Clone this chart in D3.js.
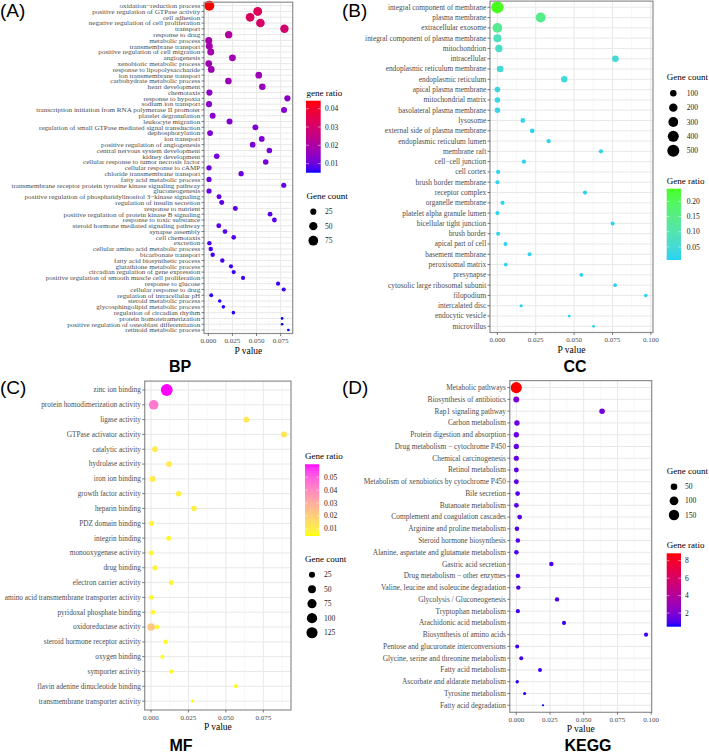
<!DOCTYPE html>
<html><head><meta charset="utf-8">
<script src="https://cdn.jsdelivr.net/npm/d3@7"></script>
<style>body{margin:0;background:#fff}</style>
</head><body>
<svg id="c" width="709" height="754" xmlns="http://www.w3.org/2000/svg"></svg>
<script>
// ---------------- DATA ----------------
const bpTerms = ["oxidation\u2212reduction process","positive regulation of GTPase activity","cell adhesion","negative regulation of cell proliferation","transport","response to drug","metabolic process","transmembrane transport","positive regulation of cell migration","angiogenesis","xenobiotic metabolic process","response to lipopolysaccharide","ion transmembrane transport","carbohydrate metabolic process","heart development","chemotaxis","response to hypoxia","sodium ion transport","transcription initiation from RNA polymerase II promoter","platelet degranulation","leukocyte migration","regulation of small GTPase mediated signal transduction","dephosphorylation","ion transport","positive regulation of angiogenesis","central nervous system development","kidney development","cellular response to tumor necrosis factor","cellular response to cAMP","chloride transmembrane transport","fatty acid metabolic process","transmembrane receptor protein tyrosine kinase signaling pathway","gluconeogenesis","positive regulation of phosphatidylinositol 3\u2212kinase signaling","regulation of insulin secretion","response to nutrient","positive regulation of protein kinase B signaling","response to toxic substance","steroid hormone mediated signaling pathway","synapse assembly","cell chemotaxis","excretion","cellular amino acid metabolic process","bicarbonate transport","fatty acid biosynthetic process","glutathione metabolic process","circadian regulation of gene expression","positive regulation of smooth muscle cell proliferation","response to glucose","cellular response to drug","regulation of intracellular pH","steroid metabolic process","glycosphingolipid metabolic process","regulation of circadian rhythm","protein homotetramerization","positive regulation of osteoblast differentiation","retinoid metabolic process"];
const bpP = [0.001,0.0512,0.0433,0.054,0.0789,0.0211,0.0004,0.001,0.0025,0.025,0.0004,0.003,0.0523,0.0208,0.056,0.0011,0.082,0.0007,0.0785,0.0045,0.022,0.0488,0.0018,0.0554,0.046,0.0633,0.0087,0.0595,0.0007,0.034,0.0007,0.0782,0.0007,0.0111,0.0139,0.028,0.064,0.0685,0.0108,0.0173,0.0263,0.0011,0.0025,0.0045,0.0145,0.0235,0.0263,0.036,0.0723,0.0782,0.003,0.0118,0.0156,0.026,0.0765,0.0765,0.083];
const bpCount = [80,60,58,56,53,38,34,33,33,32,31,31,30,30,29,25,25,24,24,23,23,22,22,21,21,20,20,20,18,18,17,17,17,16,16,16,15,15,15,15,14,13,13,13,13,12,12,12,12,12,11,10,10,10,9,9,9];
const bpRatio = [0.0444,0.0333,0.0322,0.0311,0.0294,0.0211,0.0189,0.0183,0.0183,0.0178,0.0172,0.0172,0.0167,0.0167,0.0161,0.0139,0.0139,0.0133,0.0133,0.0128,0.0128,0.0122,0.0122,0.0117,0.0117,0.0111,0.0111,0.0111,0.0100,0.0100,0.0094,0.0094,0.0094,0.0089,0.0089,0.0089,0.0083,0.0083,0.0083,0.0083,0.0078,0.0072,0.0072,0.0072,0.0072,0.0067,0.0067,0.0067,0.0067,0.0067,0.0061,0.0056,0.0056,0.0056,0.0050,0.0050,0.0050];

const ccTerms = ["integral component of membrane","plasma membrane","extracellular exosome","integral component of plasma membrane","mitochondrion","intracellular","endoplasmic reticulum membrane","endoplasmic reticulum","apical plasma membrane","mitochondrial matrix","basolateral plasma membrane","lysosome","external side of plasma membrane","endoplasmic reticulum lumen","membrane raft","cell\u2212cell junction","cell cortex","brush border membrane","receptor complex","organelle membrane","platelet alpha granule lumen","bicellular tight junction","brush border","apical part of cell","basement membrane","peroxisomal matrix","presynapse","cytosolic large ribosomal subunit","filopodium","intercalated disc","endocytic vesicle","microvillus"];
const ccP = [0.00001,0.0282,0.00001,0.00002,0.001,0.0769,0.0018,0.0436,0.00003,0.00004,0.00005,0.0166,0.0227,0.0334,0.0675,0.0173,0.0005,0.00006,0.0571,0.0034,0.00007,0.0751,0.0005,0.0053,0.021,0.0055,0.0547,0.0767,0.0967,0.0155,0.0468,0.0627];
const ccCount = [520,315,300,175,142,104,104,100,67,65,62,45,44,37,36,36,35,34,34,33,33,31,31,31,30,29,29,28,27,24,23,23];
const ccRatio = [0.242,0.147,0.140,0.081,0.066,0.048,0.048,0.047,0.031,0.030,0.029,0.021,0.020,0.017,0.017,0.017,0.016,0.016,0.016,0.015,0.015,0.014,0.014,0.014,0.014,0.013,0.013,0.013,0.0126,0.009,0.008,0.0067];

const mfTerms = ["zinc ion binding","protein homodimerization activity","ligase activity","GTPase activator activity","catalytic activity","hydrolase activity","iron ion binding","growth factor activity","heparin binding","PDZ domain binding","integrin binding","monooxygenase activity","drug binding","electron carrier activity","amino acid transmembrane transporter activity","pyridoxal phosphate binding","oxidoreductase activity","oxidoreductase activity","steroid hormone receptor activity","oxygen binding","symporter activity","flavin adenine dinucleotide binding","transmembrane transporter activity"];
const mfP = [0.0105,0.0018,0.0637,0.0888,0.0027,0.012,0.0011,0.0185,0.0287,0.0004,0.0118,0.0001,0.0027,0.0136,0.0002,0.0013,0.0001,0.004,0.0098,0.0076,0.0136,0.0568,0.0278];
const mfCount = [145,85,24,24,23,22,22,20,20,17,16,16,17,16,14,14,45,13,13,11,11,11,10];
const mfRatio = [0.060,0.044,0.012,0.012,0.011,0.011,0.0105,0.0095,0.0095,0.008,0.0075,0.0075,0.008,0.0075,0.0065,0.0065,0.022,0.006,0.006,0.005,0.005,0.005,0.0043];

const keggTerms = ["Metabolic pathways","Biosynthesis of antibiotics","Rap1 signaling pathway","Carbon metabolism","Protein digestion and absorption","Drug metabolism \u2212 cytochrome P450","Chemical carcinogenesis","Retinol metabolism","Metabolism of xenobiotics by cytochrome P450","Bile secretion","Butanoate metabolism","Complement and coagulation cascades","Arginine and proline metabolism","Steroid hormone biosynthesis","Alanine, aspartate and glutamate metabolism","Gastric acid secretion","Drug metabolism \u2212 other enzymes","Valine, leucine and isoleucine degradation","Glycolysis / Gluconeogenesis","Tryptophan metabolism","Arachidonic acid metabolism","Biosynthesis of amino acids","Pentose and glucuronate interconversions","Glycine, serine and threonine metabolism","Fatty acid metabolism","Ascorbate and aldarate metabolism","Tyrosine metabolism","Fatty acid degradation"];
const keggP = [0.00001,0.00002,0.0636,0.0005,0.00003,0.00004,0.00005,0.00006,0.00007,0.001,0.00008,0.0025,0.0005,0.0012,0.00009,0.026,0.0012,0.0015,0.0302,0.0012,0.0354,0.0962,0.0007,0.0037,0.0176,0.0007,0.0062,0.0198];
const keggCount = [180,39,33,31,30,28,28,25,25,23,23,23,21,21,21,20,19,19,19,17,17,17,16,16,16,12,11,9];
const keggRatio = [8.85,1.92,1.63,1.53,1.48,1.38,1.38,1.23,1.23,1.13,1.13,1.13,1.03,1.03,1.03,0.99,0.94,0.94,0.94,0.84,0.84,0.84,0.79,0.79,0.79,0.59,0.54,0.44];

const pTicks4 = [0, 0.025, 0.05, 0.075];
const pTicks5 = [0, 0.025, 0.05, 0.075, 0.1];
const bpSizeBreaks = [25, 50, 75];
const bpRatioBreaks = [0.01, 0.02, 0.03, 0.04];
const ccSizeBreaks = [100, 200, 300, 400, 500];
const ccRatioBreaks = [0.05, 0.10, 0.15, 0.20];
const mfSizeBreaks = [25, 50, 75, 100, 125];
const mfRatioBreaks = [0.01, 0.02, 0.03, 0.04, 0.05];
const keggSizeBreaks = [50, 100, 150];
const keggRatioBreaks = [2, 4, 6, 8];

// ---------------- DRAW ----------------
const svg = d3.select('#c');
const SERIF = "'Times New Roman','Liberation Serif','DejaVu Serif',serif";
const SANS = "Arial,'Liberation Sans',Helvetica,sans-serif";
let gradId = 0;

function drawPanel(cfg) {
  const g = svg.append('g');
  const uniq = Array.from(new Set(cfg.terms));
  const x = d3.scaleLinear().domain(cfg.xDomain).range([cfg.x0, cfg.x1]);
  const y = d3.scalePoint().domain(uniq).range([cfg.y0, cfg.y1]).padding(0.6);
  const rExt = d3.extent(cfg.ratio);
  const col = d3.scaleLinear().domain(rExt).range([cfg.low, cfg.high]).interpolate(d3.interpolateLab);
  const nExt = d3.extent(cfg.count);
  const tS = d3.scaleLinear().domain(nExt).range([0, 1]);
  const rad = v => cfg.r0 + (cfg.r1 - cfg.r0) * Math.sqrt(Math.max(0, tS(v)));

  // grid
  const step = cfg.ticks[1] - cfg.ticks[0];
  const minors = [];
  for (let i = -1; i < cfg.ticks.length; i++) {
    const m = cfg.ticks[0] + step * (i + 0.5);
    if (m > cfg.xDomain[0] && m < cfg.xDomain[1]) minors.push(m);
  }
  g.append('g').selectAll('line').data(minors).join('line')
    .attr('x1', d => x(d)).attr('x2', d => x(d)).attr('y1', cfg.y0).attr('y2', cfg.y1)
    .attr('stroke', '#F3F3F3').attr('stroke-width', 0.6);
  g.append('g').selectAll('line').data(cfg.ticks).join('line')
    .attr('x1', d => x(d)).attr('x2', d => x(d)).attr('y1', cfg.y0).attr('y2', cfg.y1)
    .attr('stroke', '#E8E8E8').attr('stroke-width', 1);
  g.append('g').selectAll('line').data(uniq).join('line')
    .attr('x1', cfg.x0).attr('x2', cfg.x1).attr('y1', d => y(d)).attr('y2', d => y(d))
    .attr('stroke', '#E8E8E8').attr('stroke-width', 1);

  // points (largest first)
  const pts = cfg.terms.map((t, i) => ({ t, p: cfg.p[i], c: cfg.count[i], r: cfg.ratio[i] }))
    .sort((a, b) => b.c - a.c);
  g.append('g').selectAll('circle').data(pts).join('circle')
    .attr('cx', d => x(d.p)).attr('cy', d => y(d.t)).attr('r', d => rad(d.c))
    .attr('fill', d => col(d.r));

  // border
  g.append('rect').attr('x', cfg.x0).attr('y', cfg.y0)
    .attr('width', cfg.x1 - cfg.x0).attr('height', cfg.y1 - cfg.y0)
    .attr('fill', 'none').attr('stroke', '#8E8E8E').attr('stroke-width', 1.2);

  // y axis
  g.append('g').selectAll('line').data(uniq).join('line')
    .attr('x1', cfg.x0 - 2.5).attr('x2', cfg.x0).attr('y1', d => y(d)).attr('y2', d => y(d))
    .attr('stroke', '#444').attr('stroke-width', 0.7);
  g.append('g').selectAll('text').data(uniq).join('text')
    .attr('x', cfg.x0 - 3.8).attr('y', d => y(d)).attr('dy', '0.33em')
    .attr('text-anchor', 'end').attr('font-family', SERIF).attr('font-size', cfg.labelSize)
    .attr('fill', '#4D4D4D').text(d => d);

  // x axis
  g.append('g').selectAll('line').data(cfg.ticks).join('line')
    .attr('x1', d => x(d)).attr('x2', d => x(d)).attr('y1', cfg.y1).attr('y2', cfg.y1 + 2.5)
    .attr('stroke', '#444').attr('stroke-width', 0.7);
  g.append('g').selectAll('text').data(cfg.ticks).join('text')
    .attr('x', d => x(d)).attr('y', cfg.y1 + 7.2).attr('dy', '0.35em')
    .attr('text-anchor', 'middle').attr('font-family', SERIF).attr('font-size', 7)
    .attr('fill', '#4D4D4D').text(d => d3.format('.3f')(d));
  g.append('text').attr('x', (cfg.x0 + cfg.x1) / 2).attr('y', cfg.y1 + 16.8).attr('dy', '0.35em')
    .attr('text-anchor', 'middle').attr('font-family', SERIF).attr('font-size', 9.5)
    .attr('fill', '#000').text('P value');

  // legends
  const L = cfg.legend;
  // size legend
  const sg = g.append('g');
  sg.append('text').attr('x', L.sizeTitle[0]).attr('y', L.sizeTitle[1]).attr('dy', '0.35em')
    .attr('font-family', SERIF).attr('font-size', 9).attr('fill', '#000').text(L.sizeTitleText);
  sg.selectAll('circle').data(cfg.sizeBreaks).join('circle')
    .attr('cx', L.sizeCx).attr('cy', (d, i) => L.sizeY0 + i * L.sizeStep)
    .attr('r', d => rad(d)).attr('fill', '#000');
  sg.selectAll('text.lab').data(cfg.sizeBreaks).join('text').attr('class', 'lab')
    .attr('x', L.labX).attr('y', (d, i) => L.sizeY0 + i * L.sizeStep).attr('dy', '0.35em')
    .attr('font-family', SERIF).attr('font-size', 7.5).attr('fill', '#1a1a1a').text(d => d);

  // colour bar
  const id = 'grad' + (gradId++);
  const grad = svg.append('defs').append('linearGradient').attr('id', id)
    .attr('x1', 0).attr('y1', 1).attr('x2', 0).attr('y2', 0);
  d3.range(0, 21).forEach(i => {
    const t = i / 20;
    grad.append('stop').attr('offset', t).attr('stop-color', col(rExt[0] + t * (rExt[1] - rExt[0])));
  });
  const cg = g.append('g');
  cg.append('text').attr('x', L.ratioTitle[0]).attr('y', L.ratioTitle[1]).attr('dy', '0.35em')
    .attr('font-family', SERIF).attr('font-size', 9).attr('fill', '#000').text(L.ratioTitleText);
  cg.append('rect').attr('x', L.bar[0]).attr('y', L.bar[1]).attr('width', L.bar[2] - L.bar[0])
    .attr('height', L.bar[3] - L.bar[1]).attr('fill', `url(#${id})`);
  const by = d3.scaleLinear().domain(rExt).range([L.bar[3], L.bar[1]]);
  const bw = L.bar[2] - L.bar[0];
  cg.selectAll('line.tl').data(cfg.ratioBreaks).join('line').attr('class', 'tl')
    .attr('x1', L.bar[0]).attr('x2', L.bar[0] + bw * 0.2).attr('y1', d => by(d)).attr('y2', d => by(d))
    .attr('stroke', '#fff').attr('stroke-opacity', 0.8).attr('stroke-width', 0.6);
  cg.selectAll('line.tr').data(cfg.ratioBreaks).join('line').attr('class', 'tr')
    .attr('x1', L.bar[2] - bw * 0.2).attr('x2', L.bar[2]).attr('y1', d => by(d)).attr('y2', d => by(d))
    .attr('stroke', '#fff').attr('stroke-opacity', 0.8).attr('stroke-width', 0.6);
  cg.selectAll('text.bl').data(cfg.ratioBreaks).join('text').attr('class', 'bl')
    .attr('x', L.labX).attr('y', d => by(d)).attr('dy', '0.35em')
    .attr('font-family', SERIF).attr('font-size', 7.5).attr('fill', '#1a1a1a').text(cfg.ratioFmt);

  // panel letter and title
  svg.append('text').attr('x', cfg.letter[0]).attr('y', cfg.letter[1])
    .attr('font-family', SANS).attr('font-size', 19).attr('fill', '#000').text(cfg.letterText);
  svg.append('text').attr('x', cfg.title[0]).attr('y', cfg.title[1]).attr('text-anchor', 'middle')
    .attr('font-family', SANS).attr('font-weight', 'bold').attr('font-size', 16).attr('fill', '#000')
    .text(cfg.titleText);
}

drawPanel({
  terms: bpTerms, p: bpP, count: bpCount, ratio: bpRatio,
  x0: 204, x1: 292.7, y0: 2.2, y1: 333.5, xDomain: [-0.0045, 0.0875], ticks: pTicks4,
  low: '#0000FF', high: '#FF0000', r0: 1.35, r1: 5.0, labelSize: 7.1,
  sizeBreaks: bpSizeBreaks, ratioBreaks: bpRatioBreaks, ratioFmt: d3.format('.2f'),
  legend: { ratioTitle: [306.5, 92.7], ratioTitleText: 'gene ratio', bar: [306, 100.7, 320.7, 172.7],
    sizeTitle: [306.5, 195.7], sizeTitleText: 'Gene count', sizeCx: 313.3, sizeY0: 211.7, sizeStep: 14.5, labX: 325 },
  letter: [0, 16.5], letterText: '(A)', title: [180, 371.5], titleText: 'BP'
});

drawPanel({
  terms: ccTerms, p: ccP, count: ccCount, ratio: ccRatio,
  x0: 490, x1: 653, y0: 1.1, y1: 332.5, xDomain: [-0.0048, 0.1014], ticks: pTicks5,
  low: '#22D2F4', high: '#46FF1A', r0: 1.4, r1: 6.1, labelSize: 7.4,
  sizeBreaks: ccSizeBreaks, ratioBreaks: ccRatioBreaks, ratioFmt: d3.format('.2f'),
  legend: { sizeTitle: [666.7, 77.3], sizeTitleText: 'Gene count', sizeCx: 673.3, sizeY0: 93.3, sizeStep: 14.35,
    ratioTitle: [666.7, 180.7], ratioTitleText: 'Gene ratio', bar: [666.7, 188.7, 681, 260], labX: 686.7 },
  letter: [342, 16.5], letterText: '(B)', title: [575, 371.5], titleText: 'CC'
});

drawPanel({
  terms: mfTerms, p: mfP, count: mfCount, ratio: mfRatio,
  x0: 144.7, x1: 291, y0: 381.1, y1: 710, xDomain: [-0.0042, 0.0935], ticks: pTicks4,
  low: '#FFFF00', high: '#FF00FF', r0: 1.6, r1: 5.9, labelSize: 7.3,
  sizeBreaks: mfSizeBreaks, ratioBreaks: mfRatioBreaks, ratioFmt: d3.format('.2f'),
  legend: { ratioTitle: [305, 456], ratioTitleText: 'Gene ratio', bar: [305, 464.3, 319.3, 536],
    sizeTitle: [305, 558.5], sizeTitleText: 'Gene count', sizeCx: 312, sizeY0: 574.7, sizeStep: 14.5, labX: 324 },
  letter: [0, 394], letterText: '(C)', title: [181, 751], titleText: 'MF'
});

drawPanel({
  terms: keggTerms, p: keggP, count: keggCount, ratio: keggRatio,
  x0: 509.8, x1: 651.7, y0: 380.6, y1: 712.3, xDomain: [-0.0048, 0.1004], ticks: pTicks5,
  low: '#0000FF', high: '#FF0000', r0: 1.1, r1: 5.6, labelSize: 7.4,
  sizeBreaks: keggSizeBreaks, ratioBreaks: keggRatioBreaks, ratioFmt: d3.format('d'),
  legend: { sizeTitle: [666.7, 471], sizeTitleText: 'Gene count', sizeCx: 674, sizeY0: 486.7, sizeStep: 14.15,
    ratioTitle: [666.7, 545], ratioTitleText: 'Gene ratio', bar: [666.7, 553.3, 681, 626.7], labX: 685 },
  letter: [342, 394], letterText: '(D)', title: [588, 751], titleText: 'KEGG'
});
</script>
</body></html>
